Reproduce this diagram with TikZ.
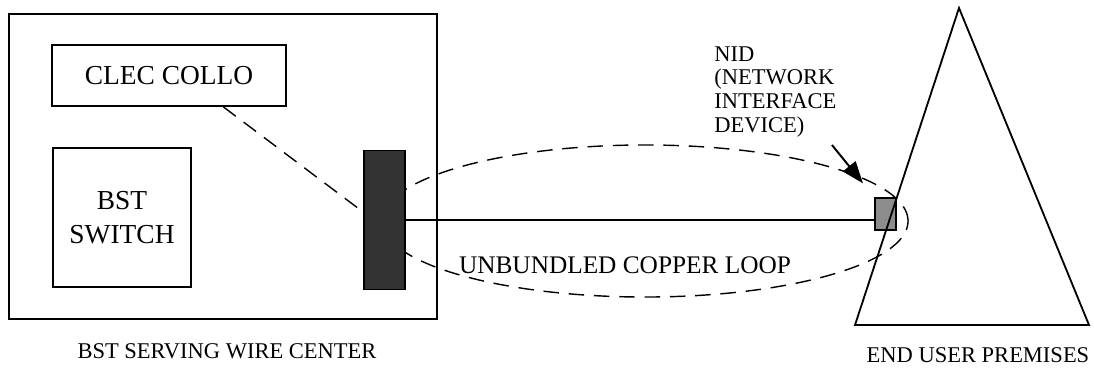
\documentclass[tikz,border=0pt]{standalone}
\usepackage{fontspec}
\setmainfont{Liberation Serif}
\usepackage{tikz}
\usetikzlibrary{arrows.meta}

\begin{document}
\begin{tikzpicture}[x=0.025cm,y=-0.025cm]
  \useasboundingbox (0,0) rectangle (1094,370);
    \tikzstyle{box}=[rectangle,draw=black,line width=1.3pt,inner sep=0pt]
    \tikzstyle{box_dark}=[box,fill=black!80]
    \tikzstyle{lbl}=[inner sep=0pt,font=\fontsize{16}{17}\selectfont]
    \tikzstyle{dashline}=[line width=1pt,dash pattern=on 11pt off 7pt]

  \node[box, minimum width=10.7cm, minimum height=7.625cm] (center) at (223,166.5) {};
  \node[box, minimum width=5.85cm, minimum height=1.525cm, font=\fontsize{19.5}{24}\selectfont] (clec) at (169,75.5) {CLEC COLLO};
  \node[box, minimum width=3.45cm, minimum height=3.475cm, align=center, font=\fontsize{19.5}{24}\selectfont] (switch) at (122,217.5) {BST\\SWITCH};

  \draw[dashline] (645,221) ellipse [x radius=6.575cm, y radius=1.9cm];
    \node[box_dark, minimum width=1.025cm, minimum height=3.475cm] (bar) at (384.5,220) {};
    \node[box, fill=black!45, minimum width=0.525cm, minimum height=0.8cm] (nid) at (885.5,214) {};

\draw[dashline] (clec.-30) -- ([yshift=0.2cm]bar.west);
\draw[line width=1.3pt] (bar.east) -- (bar.east -| nid.west);

  \coordinate (top) at (959,8);
  \coordinate (left) at (855,325);
  \coordinate (right) at (1089,325);
  \draw[line width=1.3pt] (top) -- (left) -- (right) -- cycle;

  \coordinate (arrowtail) at (832,145);
\draw[line width=1.4pt,-{Triangle[length=0.55cm,width=0.4cm]},shorten >=0.44cm] (arrowtail) -- (nid.north west);

  \node[lbl, align=left, anchor=north west] (nidlabel) at (714,46) {NID\\(NETWORK\\INTERFACE\\DEVICE)};
  \node[lbl, font=\fontsize{18}{20}\selectfont, anchor=base] (looplabel) at (625,273) {UNBUNDLED COPPER LOOP};
  \node[lbl, anchor=base] (centerlabel) at (227,358) {BST SERVING WIRE CENTER};
  \node[lbl, anchor=base] (premiseslabel) at (978,362) {END USER PREMISES};
    \end{tikzpicture}
\end{document}
